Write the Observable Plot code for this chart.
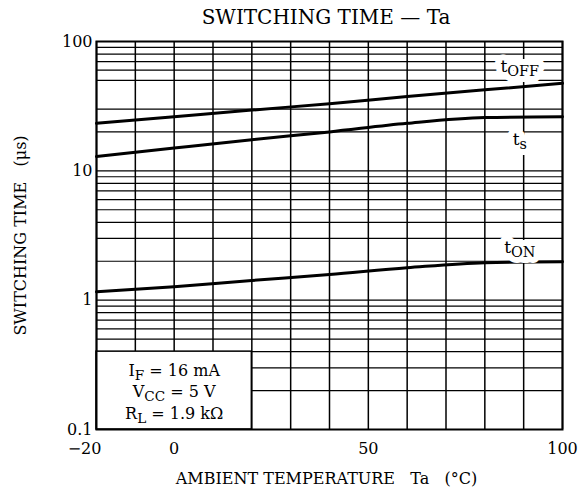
<!DOCTYPE html>
<html><head><meta charset="utf-8">
<script src="https://cdn.jsdelivr.net/npm/d3@7"></script>
<script src="https://cdn.jsdelivr.net/npm/@observablehq/plot@0.6"></script>
<style>
body{margin:0;background:#fff;font-family:"DejaVu Serif",serif;}
#title{height:30px;line-height:34px;text-align:center;padding-left:66px;font-size:20px;color:#000;white-space:pre;}
#chart svg{display:block;}
</style></head>
<body>
<div id="title">SWITCHING TIME — Ta</div>
<div id="chart"></div>
<script>
// Data
const temps = [-20, 0, 20, 40, 60, 80, 100];
const tOff  = [23.3, 26.2, 29.5, 33.0, 37.5, 42.3, 47.5];
const tS    = [12.9, 15.0, 17.4, 20.0, 23.3, 25.8, 26.2];
const tOn   = [1.16, 1.27, 1.42, 1.58, 1.78, 1.95, 1.98];

const seriesNames = ["t_{OFF}", "t_{s}", "t_{ON}"];
const labelTemps  = [89, 89, 89];
const labelValues = [64, 17.5, 2.55];

const xGrid = [-20, -10, 0, 10, 20, 30, 40, 50, 60, 70, 80, 90, 100];
const yGrid = [0.2, 0.3, 0.4, 0.5, 0.6, 0.7, 0.8, 0.9, 1, 2, 3, 4, 5, 6, 7, 8, 9, 10, 20, 30, 50, 60, 70, 80, 90];
const xTicks = [-20, 0, 50, 100];
const yTicks = [0.1, 1, 10, 100];
const yTickLabels = ["0.1", "1", "10", "100"];

const condBox = [{x1: -20, x2: 20, y1: 0.1, y2: 0.4}];
const condText = "I_{F} = 16 mA\nV_{CC} = 5 V\nR_{L} = 1.9 kΩ";

const lineData = [];
[tOff, tS, tOn].forEach((arr, i) => arr.forEach((v, j) => lineData.push({name: seriesNames[i], x: temps[j], y: v})));
const labels = seriesNames.map((n, i) => ({name: n, x: labelTemps[i], y: labelValues[i]}));

const plot = Plot.plot({
  width: 586, height: 467,
  marginTop: 11, marginBottom: 68, marginLeft: 96, marginRight: 24,
  style: {fontFamily: "DejaVu Serif", color: "black", background: "white"},
  x: {domain: [-20, 100]},
  y: {type: "log", domain: [0.1, 100]},
  marks: [
    Plot.ruleY(yGrid, {stroke: "black", strokeWidth: 1.2}),
    Plot.ruleX(xGrid, {stroke: "black", strokeWidth: 1.5}),
    Plot.rect(condBox, {x1: "x1", x2: "x2", y1: "y1", y2: "y2", fill: "white", stroke: "black", strokeWidth: 1.5}),
    Plot.text([condText], {x: d => (condBox[0].x1 + condBox[0].x2) / 2, y: d => Math.sqrt(condBox[0].y1 * condBox[0].y2), text: d => d, fontSize: 16, lineHeight: 1.35, fill: "black"}),
    Plot.line(lineData, {x: "x", y: "y", z: "name", stroke: "black", strokeWidth: 3, curve: "monotone-x"}),
    Plot.text(labels, {x: "x", y: "y", text: "name", fontSize: 17, fill: "white", stroke: "white", strokeWidth: 12}),
    Plot.text(labels, {x: "x", y: "y", text: "name", fontSize: 17, fill: "black"}),
    Plot.frame({stroke: "black", strokeWidth: 2}),
    Plot.axisY(yTicks, {tickSize: 0, tickPadding: 4, fontSize: 16, tickFormat: d => yTickLabels[yTicks.indexOf(d)], label: null}),
    Plot.axisX([xTicks[0]], {tickSize: 0, tickPadding: 13, fontSize: 16, dx: -12, tickFormat: d => "\u2212" + Math.abs(d), label: null}),
    Plot.axisX(xTicks.slice(1), {tickSize: 0, tickPadding: 13, fontSize: 16, tickFormat: d => String(d), label: null}),
    Plot.text(["SWITCHING TIME\u00a0\u00a0\u00a0(\u03bcs)"], {frameAnchor: "left", textAnchor: "middle", dx: -76, rotate: -90, fontSize: 16, fill: "black", letterSpacing: "2px"}),
    Plot.text(["AMBIENT TEMPERATURE\u00a0\u00a0\u00a0Ta\u00a0\u00a0\u00a0(°C)"], {frameAnchor: "bottom", textAnchor: "middle", dy: 54, dx: -3, fontSize: 16, fill: "black", letterSpacing: "2px"})
  ]
});

// Convert _{...} into subscript tspans
function subify(node) {
  const s = node.textContent;
  if (!s.includes("_{")) return;
  while (node.firstChild) node.removeChild(node.firstChild);
  const ns = "http://www.w3.org/2000/svg";
  const parts = s.split(/(_\{[^}]*\})/);
  parts.forEach(p => {
    if (!p) return;
    const t = document.createElementNS(ns, "tspan");
    if (p.startsWith("_{")) {
      t.textContent = p.slice(2, -1);
      t.setAttribute("baseline-shift", "-0.3em");
      t.setAttribute("font-size", "0.85em");
    } else t.textContent = p;
    node.appendChild(t);
  });
}
plot.querySelectorAll("text").forEach(t => {
  const spans = t.querySelectorAll(":scope > tspan");
  if (spans.length) spans.forEach(subify); else subify(t);
});
document.getElementById("chart").appendChild(plot);
</script>
</body></html>
